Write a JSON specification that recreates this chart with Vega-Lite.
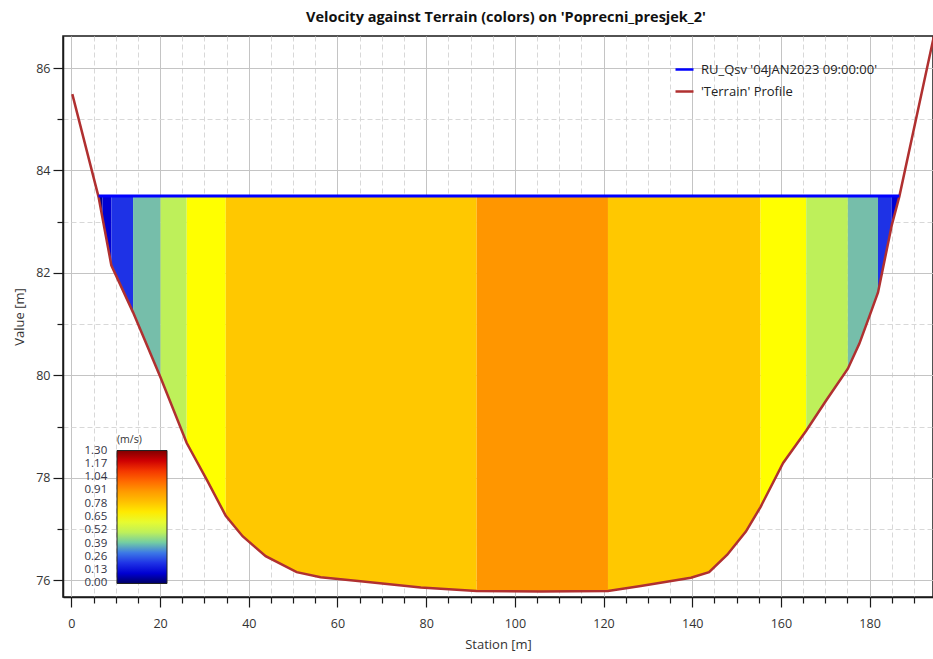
{
  "$schema": "https://vega.github.io/schema/vega-lite/v6.json",
  "autosize": "none",
  "width": 870,
  "height": 561,
  "padding": {"left": 63, "top": 36, "right": 0, "bottom": 62},
  "background": "white",
  "title": {"text": "Velocity against Terrain (colors) on 'Poprecni_presjek_2'", "font": "Open Sans", "fontSize": 14.5, "fontWeight": "bold", "color": "#111", "anchor": "middle", "offset": 11, "dx": 8},
  "config": {
    "view": {"stroke": "#1a1a1a", "strokeWidth": 1.5},
    "font": "Open Sans",
    "axis": {"domainColor": "#1a1a1a", "domainWidth": 1.5, "tickColor": "#1a1a1a", "tickWidth": 1.2, "labelFont": "Open Sans", "labelFontSize": 12.5, "labelColor": "#333", "titleFont": "Open Sans", "titleFontSize": 13, "titleFontWeight": "normal", "titleColor": "#333"}
  },
  "datasets": {
    "terrain": [
      {"s": 0.2, "g": 85.49}, {"s": 6.1, "g": 83.49}, {"s": 9.0, "g": 82.15}, {"s": 13.9, "g": 81.23}, {"s": 20.1, "g": 79.96}, {"s": 26.0, "g": 78.68}, {"s": 30.6, "g": 77.95}, {"s": 34.8, "g": 77.26}, {"s": 38.6, "g": 76.86}, {"s": 43.8, "g": 76.47}, {"s": 50.8, "g": 76.16}, {"s": 56.2, "g": 76.06}, {"s": 65.2, "g": 75.98}, {"s": 78.8, "g": 75.86}, {"s": 91.4, "g": 75.79}, {"s": 105.9, "g": 75.78}, {"s": 121.0, "g": 75.79}, {"s": 128.4, "g": 75.89}, {"s": 139.7, "g": 76.05}, {"s": 143.8, "g": 76.16}, {"s": 147.9, "g": 76.5}, {"s": 152.1, "g": 76.95}, {"s": 155.4, "g": 77.43}, {"s": 160.5, "g": 78.29}, {"s": 165.7, "g": 78.92}, {"s": 170.2, "g": 79.51}, {"s": 175.1, "g": 80.13}, {"s": 177.7, "g": 80.62}, {"s": 180.4, "g": 81.26}, {"s": 181.9, "g": 81.62}, {"s": 185.0, "g": 82.93}, {"s": 186.7, "g": 83.49}, {"s": 195.2, "g": 86.9}
    ],
    "bands": [
      {"band": 1, "vel": 0.04, "s": 6.1, "g": 83.49, "wse": 83.5}, {"band": 1, "vel": 0.04, "s": 7.0, "g": 83.07, "wse": 83.5},
      {"band": 2, "vel": 0.1, "s": 7.0, "g": 83.07, "wse": 83.5}, {"band": 2, "vel": 0.1, "s": 9.0, "g": 82.15, "wse": 83.5},
      {"band": 3, "vel": 0.2, "s": 9.0, "g": 82.15, "wse": 83.5}, {"band": 3, "vel": 0.2, "s": 13.9, "g": 81.23, "wse": 83.5},
      {"band": 4, "vel": 0.37, "s": 13.9, "g": 81.23, "wse": 83.5}, {"band": 4, "vel": 0.37, "s": 20.1, "g": 79.96, "wse": 83.5},
      {"band": 5, "vel": 0.5, "s": 20.1, "g": 79.96, "wse": 83.5}, {"band": 5, "vel": 0.5, "s": 26.0, "g": 78.68, "wse": 83.5},
      {"band": 6, "vel": 0.65, "s": 26.0, "g": 78.68, "wse": 83.5}, {"band": 6, "vel": 0.65, "s": 30.6, "g": 77.95, "wse": 83.5}, {"band": 6, "vel": 0.65, "s": 34.8, "g": 77.26, "wse": 83.5},
      {"band": 7, "vel": 0.78, "s": 34.8, "g": 77.26, "wse": 83.5}, {"band": 7, "vel": 0.78, "s": 38.6, "g": 76.86, "wse": 83.5}, {"band": 7, "vel": 0.78, "s": 43.8, "g": 76.47, "wse": 83.5}, {"band": 7, "vel": 0.78, "s": 50.8, "g": 76.16, "wse": 83.5}, {"band": 7, "vel": 0.78, "s": 56.2, "g": 76.06, "wse": 83.5}, {"band": 7, "vel": 0.78, "s": 65.2, "g": 75.98, "wse": 83.5}, {"band": 7, "vel": 0.78, "s": 78.8, "g": 75.86, "wse": 83.5}, {"band": 7, "vel": 0.78, "s": 91.4, "g": 75.79, "wse": 83.5},
      {"band": 8, "vel": 0.91, "s": 91.4, "g": 75.79, "wse": 83.5}, {"band": 8, "vel": 0.91, "s": 105.9, "g": 75.78, "wse": 83.5}, {"band": 8, "vel": 0.91, "s": 121.0, "g": 75.79, "wse": 83.5},
      {"band": 9, "vel": 0.78, "s": 121.0, "g": 75.79, "wse": 83.5}, {"band": 9, "vel": 0.78, "s": 128.4, "g": 75.89, "wse": 83.5}, {"band": 9, "vel": 0.78, "s": 139.7, "g": 76.05, "wse": 83.5}, {"band": 9, "vel": 0.78, "s": 143.8, "g": 76.16, "wse": 83.5}, {"band": 9, "vel": 0.78, "s": 147.9, "g": 76.5, "wse": 83.5}, {"band": 9, "vel": 0.78, "s": 152.1, "g": 76.95, "wse": 83.5}, {"band": 9, "vel": 0.78, "s": 155.4, "g": 77.43, "wse": 83.5},
      {"band": 10, "vel": 0.65, "s": 155.4, "g": 77.43, "wse": 83.5}, {"band": 10, "vel": 0.65, "s": 160.5, "g": 78.29, "wse": 83.5}, {"band": 10, "vel": 0.65, "s": 165.7, "g": 78.92, "wse": 83.5},
      {"band": 11, "vel": 0.5, "s": 165.7, "g": 78.92, "wse": 83.5}, {"band": 11, "vel": 0.5, "s": 170.2, "g": 79.51, "wse": 83.5}, {"band": 11, "vel": 0.5, "s": 175.1, "g": 80.13, "wse": 83.5},
      {"band": 12, "vel": 0.37, "s": 175.1, "g": 80.13, "wse": 83.5}, {"band": 12, "vel": 0.37, "s": 177.7, "g": 80.62, "wse": 83.5}, {"band": 12, "vel": 0.37, "s": 180.4, "g": 81.26, "wse": 83.5}, {"band": 12, "vel": 0.37, "s": 181.9, "g": 81.62, "wse": 83.5},
      {"band": 13, "vel": 0.2, "s": 181.9, "g": 81.62, "wse": 83.5}, {"band": 13, "vel": 0.2, "s": 185.0, "g": 82.93, "wse": 83.5},
      {"band": 14, "vel": 0.1, "s": 185.0, "g": 82.93, "wse": 83.5}, {"band": 14, "vel": 0.1, "s": 186.7, "g": 83.49, "wse": 83.5}
    ],
    "wse": [
      {"s": 6.1, "g": 83.5}, {"s": 186.7, "g": 83.5}
    ]
  },
  "encoding": {
    "x": {"field": "s", "type": "quantitative", "title": "Station [m]",
      "scale": {"domain": [-1.9, 194.3], "nice": false, "zero": false},
      "axis": {"values": [0,5,10,15,20,25,30,35,40,45,50,55,60,65,70,75,80,85,90,95,100,105,110,115,120,125,130,135,140,145,150,155,160,165,170,175,180,185,190],
        "labelExpr": "datum.value % 20 === 0 ? datum.label : ''",
        "tickSize": {"condition": {"test": "datum.value % 20 === 0", "value": 10}, "value": 6},
        "gridColor": {"condition": {"test": "datum.value % 20 === 0", "value": "#c4c4c4"}, "value": "#d8d8d8"},
        "gridDash": {"condition": {"test": "datum.value % 20 === 0", "value": []}, "value": [5, 3]},
        "gridWidth": 1, "labelPadding": 10, "titlePadding": 9, "labelFlush": false}
    },
    "y": {"field": "g", "type": "quantitative", "title": "Value [m]",
      "scale": {"domain": [75.674, 86.625], "nice": false, "zero": false},
      "axis": {"values": [76,76.5,77,77.5,78,78.5,79,79.5,80,80.5,81,81.5,82,82.5,83,83.5,84,84.5,85,85.5,86,86.5],
        "format": "d",
        "labelExpr": "datum.value % 2 === 0 ? datum.label : ''",
        "tickSize": {"condition": {"test": "datum.value % 2 === 0", "value": 10}, "value": 6},
        "gridColor": {"condition": {"test": "datum.value % 2 === 0", "value": "#c4c4c4"}, "value": "#d8d8d8"},
        "gridDash": {"condition": {"test": "datum.value % 2 === 0", "value": []}, "value": [5, 3]},
        "gridWidth": 1, "labelPadding": 3, "titlePadding": 9, "labelFlush": false}
    }
  },
  "layer": [
    {
      "data": {"name": "bands"},
      "mark": {"type": "area", "interpolate": "linear", "opacity": 1},
      "encoding": {
        "y": {"field": "g", "type": "quantitative", "stack": null},
        "y2": {"field": "wse"},
        "detail": {"field": "band", "type": "nominal"},
        "fill": {"field": "vel", "type": "quantitative",
          "scale": {"domain": [0, 0.04, 0.1, 0.2, 0.3, 0.37, 0.5, 0.65, 0.78, 0.91, 1.04, 1.17, 1.3],
            "range": ["#000064", "#00008c", "#0000d2", "#1e32e6", "#3c78e6", "#76beaa", "#bef05a", "#ffff00", "#ffc800", "#ff9600", "#ff5000", "#e60000", "#800000"]},
          "legend": {"orient": "none", "legendX": 49, "legendY": 394, "direction": "vertical", "title": "(m/s)",
            "gradientLength": 133, "gradientThickness": 50,
            "values": [0.0001, 0.13, 0.26, 0.39, 0.52, 0.65, 0.78, 0.91, 1.04, 1.17, 1.2999],
            "format": ".2f", "labelOverlap": false, "labelFontSize": 11.5, "labelColor": "#334", "labelFont": "Open Sans",
            "labelOffset": -82.5,
            "titleFontSize": 10.5, "titleFontWeight": "normal", "titleColor": "#333", "titleFont": "Open Sans",
            "padding": 5,
            "gradientStrokeColor": "#222", "gradientStrokeWidth": 1}
        }
      }
    },
    {
      "data": {"name": "terrain"},
      "mark": {"type": "line", "strokeWidth": 2.5, "clip": true},
      "encoding": {
        "order": {"field": "s", "type": "quantitative"},
        "stroke": {"datum": "'Terrain' Profile", "type": "nominal",
          "scale": {"domain": ["RU_Qsv '04JAN2023 09:00:00'", "'Terrain' Profile"], "range": ["#0000ff", "#b03030"]},
          "legend": {"orient": "none", "legendX": 611, "legendY": 23, "title": null, "symbolType": "stroke", "symbolSize": 324, "symbolStrokeWidth": 2.5,
            "labelFontSize": 13, "labelColor": "#222", "labelFont": "Open Sans", "labelLimit": 400, "rowPadding": 4, "labelOffset": 6, "padding": 0}
        }
      }
    },
    {
      "data": {"name": "wse"},
      "mark": {"type": "line", "strokeWidth": 3, "clip": true},
      "encoding": {
        "stroke": {"datum": "RU_Qsv '04JAN2023 09:00:00'", "type": "nominal"}
      }
    }
  ]
}
